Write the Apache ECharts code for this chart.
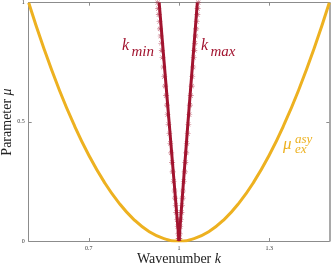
<!DOCTYPE html>
<html><head><meta charset="utf-8">
<script src="https://cdn.jsdelivr.net/npm/echarts@6/dist/echarts.min.js"></script>
<style>html,body{margin:0;padding:0;background:#fff}#c{width:332px;height:266px}</style>
</head><body><div id="c"></div>
<script>
// Yellow asymptotic curve mu_ex^asy (k, mu)
const asyK  = [0.5,0.55,0.6,0.65,0.7,0.75,0.8,0.85,0.9,0.95,1.0,1.05,1.1,1.15,1.2,1.25,1.3,1.35,1.4,1.45,1.5];
const asyMu = [1.0,0.81,0.64,0.49,0.36,0.25,0.16,0.09,0.04,0.01,0.0,0.01,0.04,0.09,0.16,0.25,0.36,0.49,0.64,0.81,1.0];
// k_min and k_max lines
const lineMu   = [0, 0.5, 1.0];
const kMinLine = [1.0, 0.967, 0.934];
const kMaxLine = [1.0, 1.030, 1.061];
// asterisk marker data
const markMu   = [1.0,0.975,0.95,0.92,0.89,0.86,0.83,0.80,0.77,0.73,0.69,0.65,0.61,0.57,0.53,0.49,0.45,0.41,0.37,0.33,0.29,0.25,0.21,0.18,0.15,0.12,0.09,0.06,0.03,0.01];
const kMinMark = [0.929,0.931,0.933,0.935,0.937,0.939,0.941,0.943,0.945,0.948,0.951,0.954,0.957,0.960,0.962,0.965,0.968,0.971,0.974,0.977,0.979,0.982,0.985,0.987,0.989,0.991,0.994,0.996,0.998,0.999];
const kMaxMark = [1.064,1.062,1.061,1.059,1.057,1.055,1.053,1.051,1.049,1.047,1.044,1.042,1.039,1.036,1.034,1.031,1.029,1.026,1.024,1.021,1.019,1.016,1.013,1.012,1.010,1.008,1.006,1.004,1.002,1.001];
const xTicks = [0.7, 1, 1.3];
const yTicks = [0, 0.5, 1];

const RED = '#A2142F', YEL = '#EDB120', AX = '#8c8c8c';
const serif = '"Liberation Serif", "DejaVu Serif", serif';
const zip = (a, b) => a.map((v, i) => [v, b[i]]);
const star = 'path://M0,4.5h10v1h-10z M4.5,0h1v10h-1z M1.1,1.8L1.8,1.1L8.9,8.2L8.2,8.9z M8.9,1.8L8.2,1.1L1.1,8.2L1.8,8.9z';

const chart = echarts.init(document.getElementById('c'), null, {renderer: 'canvas'});
const axBase = {
  type: 'value', min: 0.5, max: 1.5,
  axisLine: {show: true, onZero: false, lineStyle: {color: AX, width: 1}},
  splitLine: {show: false},
  axisTick: {show: true, inside: true, length: 3, lineStyle: {color: AX}, customValues: xTicks},
};
const titleRich = {a: {fontSize: 14, fontFamily: serif, fill: '#222'},
                   b: {fontSize: 14, fontFamily: serif, fontStyle: 'italic', fill: '#222'}};
chart.setOption({
  animation: false,
  grid: {left: 28.7, right: 2.7, top: 2.7, bottom: 25, containLabel: false, outerBoundsMode: 'none'},
  xAxis: [
    Object.assign({}, axBase, {
      position: 'bottom',
      axisLabel: {customValues: xTicks, fontSize: 6, color: '#333', fontFamily: serif, margin: 4,
        formatter: v => String(v)}
    }),
    Object.assign({}, axBase, {position: 'top', axisLabel: {show: false}})
  ],
  yAxis: [
    {type: 'value', min: 0, max: 1, interval: 0.5, position: 'left',
     axisLine: {show: true, onZero: false, lineStyle: {color: AX}},
     splitLine: {show: false},
     axisTick: {show: true, inside: true, length: 3, lineStyle: {color: AX}},
     axisLabel: {fontSize: 6, color: '#333', fontFamily: serif, margin: 4, formatter: v => String(v)}
    },
    {type: 'value', min: 0, max: 1, interval: 0.5, position: 'right',
     axisLine: {show: true, onZero: false, lineStyle: {color: AX, width: 1.5}},
     splitLine: {show: false},
     axisTick: {show: true, inside: true, length: 3, lineStyle: {color: AX}},
     axisLabel: {show: false}}
  ],
  series: [
    {type: 'line', data: zip(asyK, asyMu), smooth: true, showSymbol: false,
     lineStyle: {color: YEL, width: 3}, z: 2},
    {type: 'scatter', data: zip(kMinMark, markMu), symbol: star, symbolSize: 6,
     itemStyle: {color: 'rgba(162,20,47,0.75)'}, z: 3},
    {type: 'scatter', data: zip(kMaxMark, markMu), symbol: star, symbolSize: 6,
     itemStyle: {color: 'rgba(162,20,47,0.75)'}, z: 3},
    {type: 'line', data: zip(kMinLine, lineMu), showSymbol: false,
     lineStyle: {color: RED, width: 3}, z: 4},
    {type: 'line', data: zip(kMaxLine, lineMu), showSymbol: false,
     lineStyle: {color: RED, width: 3}, z: 4}
  ],
  graphic: [
    {type: 'text', x: 179, y: 259, style: {text: '{a|Wavenumber }{b|k}', rich: titleRich,
      align: 'center', verticalAlign: 'middle'}},
    {type: 'text', x: 7, y: 122, rotation: Math.PI / 2, style: {text: '{a|Parameter }{b|μ}', rich: titleRich,
      align: 'center', verticalAlign: 'middle'}},
    {type: 'text', x: 122, y: 53.5, style: {text: 'k', font: 'italic 16px ' + serif, fill: RED, textVerticalAlign: 'bottom'}},
    {type: 'text', x: 131.5, y: 59.5, style: {text: 'min', font: 'italic 15px ' + serif, fill: RED, textVerticalAlign: 'bottom'}},
    {type: 'text', x: 201, y: 53.5, style: {text: 'k', font: 'italic 16px ' + serif, fill: RED, textVerticalAlign: 'bottom'}},
    {type: 'text', x: 210.5, y: 59.5, style: {text: 'max', font: 'italic 15px ' + serif, fill: RED, textVerticalAlign: 'bottom'}},
    {type: 'text', x: 283, y: 153.5, style: {text: 'μ', font: 'italic 17px ' + serif, fill: YEL, textVerticalAlign: 'bottom'}},
    {type: 'text', x: 295, y: 146, style: {text: 'asy', font: 'italic 13px ' + serif, fill: YEL, textVerticalAlign: 'bottom'}},
    {type: 'text', x: 295, y: 156, style: {text: 'ex', font: 'italic 13px ' + serif, fill: YEL, textVerticalAlign: 'bottom'}}
  ]
});
</script></body></html>
